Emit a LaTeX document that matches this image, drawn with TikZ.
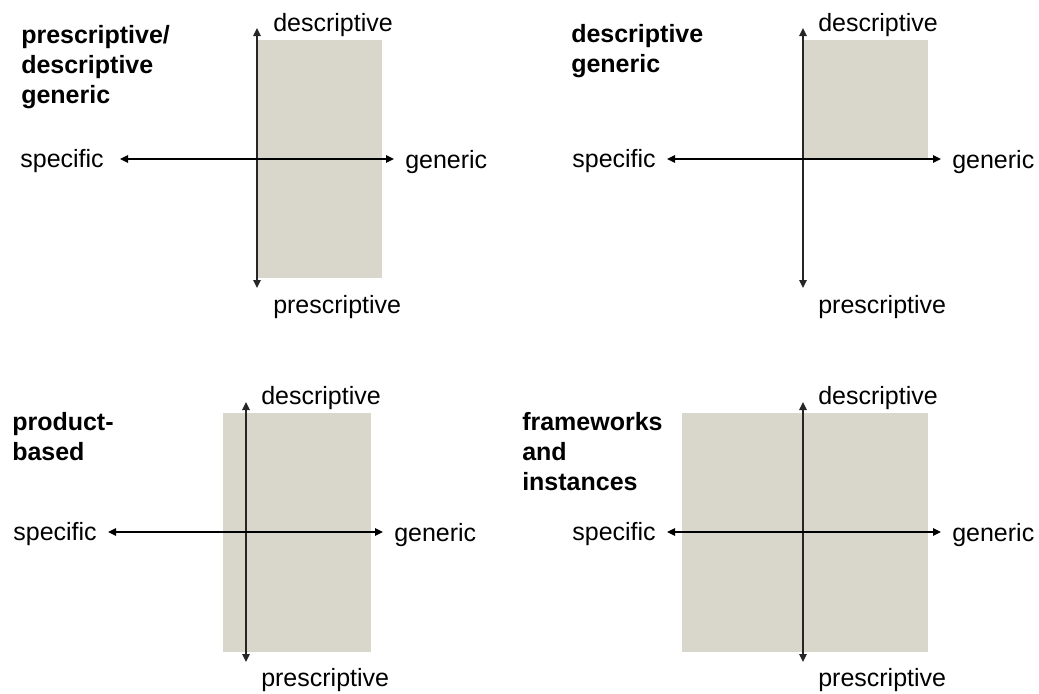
\documentclass[tikz,border=0pt]{standalone}
\usepackage{fontspec}
\setmainfont{Liberation Sans}
\usetikzlibrary{arrows.meta}
\definecolor{sand}{HTML}{D9D7CB}

\begin{document}
\begin{tikzpicture}[x=0.75pt,y=-0.75pt,
    axis/.style={line width=1.1pt,{Triangle[length=6pt,width=5.5pt]}-{Triangle[length=6pt,width=5.5pt]}},
    vaxis/.style={axis,line width=1.4pt,black!85},
    region/.style={fill=sand,draw=none},
    lbl/.style={inner sep=0pt,font=\fontsize{18.75}{22.5}\selectfont},
    title/.style={lbl,align=left,anchor=north west,font=\fontsize{18.75}{22.5}\selectfont\bfseries}]
    \useasboundingbox (0,0) rectangle (1039,693);

    % prescriptive/descriptive generic
    \fill[region] (257,40) rectangle (382,278);
    \coordinate (n1) at (257,28);
    \coordinate (s1) at (257,288);
    \coordinate (w1) at (120,159);
    \coordinate (e1) at (394,159);
    \draw[vaxis] (s1) -- (n1);
    \draw[axis] (w1) -- (e1);
    \node[lbl,anchor=base west] (desc1) at (273,31) {descriptive};
    \node[lbl,anchor=base west] (pres1) at (273,313) {prescriptive};
    \node[lbl,anchor=base east] (spec1) at (104,167) {specific};
    \node[lbl,anchor=base west] (gen1) at (405,168) {generic};
    \node[title] (title1) at (21,25) {prescriptive/\\descriptive\\generic};

    % descriptive generic
    \fill[region] (803,40) rectangle (928,159);
    \coordinate (n2) at (803,28);
    \coordinate (s2) at (803,288);
    \coordinate (w2) at (667,159);
    \coordinate (e2) at (941,159);
    \draw[vaxis] (s2) -- (n2);
    \draw[axis] (w2) -- (e2);
    \node[lbl,anchor=base west] (desc2) at (818,31) {descriptive};
    \node[lbl,anchor=base west] (pres2) at (818,313) {prescriptive};
    \node[lbl,anchor=base east] (spec2) at (656,167) {specific};
    \node[lbl,anchor=base west] (gen2) at (952,168) {generic};
    \node[title] (title2) at (571,24) {descriptive\\generic};

    % product-based
    \fill[region] (223,413) rectangle (371,652);
    \coordinate (n3) at (246,402);
    \coordinate (s3) at (246,662);
    \coordinate (w3) at (108,532);
    \coordinate (e3) at (383,532);
    \draw[vaxis] (s3) -- (n3);
    \draw[axis] (w3) -- (e3);
    \node[lbl,anchor=base west] (desc3) at (261,404) {descriptive};
    \node[lbl,anchor=base west] (pres3) at (261,686) {prescriptive};
    \node[lbl,anchor=base east] (spec3) at (97,540) {specific};
    \node[lbl,anchor=base west] (gen3) at (394,541) {generic};
    \node[title] (title3) at (12,412) {product-\\based};

    % frameworks and instances
    \fill[region] (682,413) rectangle (928,652);
    \coordinate (n4) at (803,402);
    \coordinate (s4) at (803,662);
    \coordinate (w4) at (667,532);
    \coordinate (e4) at (941,532);
    \draw[vaxis] (s4) -- (n4);
    \draw[axis] (w4) -- (e4);
    \node[lbl,anchor=base west] (desc4) at (818,404) {descriptive};
    \node[lbl,anchor=base west] (pres4) at (818,686) {prescriptive};
    \node[lbl,anchor=base east] (spec4) at (656,540) {specific};
    \node[lbl,anchor=base west] (gen4) at (952,541) {generic};
    \node[title] (title4) at (522,412) {frameworks\\and\\instances};
\end{tikzpicture}
\end{document}
